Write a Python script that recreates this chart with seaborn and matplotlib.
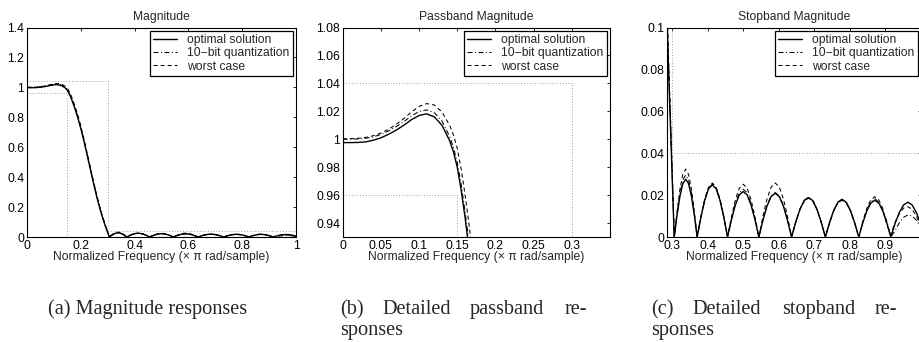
import numpy as np
import pandas as pd
import matplotlib
matplotlib.use("Agg")
import matplotlib.pyplot as plt
from matplotlib.ticker import FuncFormatter, FixedLocator
import seaborn as sns

# ---------------- data ----------------
freq = [0.000, 0.010, 0.020, 0.030, 0.040, 0.050, 0.060, 0.070, 0.080, 0.090,
        0.100, 0.110, 0.120, 0.130, 0.140, 0.145, 0.150, 0.155, 0.160, 0.165,
        0.170, 0.180, 0.190, 0.200, 0.210, 0.220, 0.230, 0.240, 0.250, 0.260,
        0.270, 0.280, 0.290, 0.300,
        0.3060, 0.3141, 0.3221, 0.3302, 0.3383, 0.3463, 0.3544, 0.3624,
        0.3705, 0.3812, 0.3919, 0.4026, 0.4133, 0.4239, 0.4346, 0.4453,
        0.4560, 0.4670, 0.4780, 0.4890, 0.5000, 0.5110, 0.5220, 0.5330,
        0.5440, 0.5555, 0.5670, 0.5785, 0.5900, 0.6015, 0.6130, 0.6245,
        0.6360, 0.6479, 0.6598, 0.6716, 0.6835, 0.6954, 0.7073, 0.7191,
        0.7310, 0.7428, 0.7545, 0.7663, 0.7780, 0.7898, 0.8015, 0.8133,
        0.8250, 0.8363, 0.8475, 0.8588, 0.8700, 0.8813, 0.8925, 0.9038,
        0.9150, 0.9270, 0.9390, 0.9510, 0.9630, 0.9750, 0.9870, 0.9950, 1.0000]

mag_optimal = [0.9976, 0.9976, 0.9977, 0.9981, 0.9993, 1.0010, 1.0035, 1.0065, 1.0100, 1.0140,
               1.0170, 1.0182, 1.0160, 1.0100, 0.9990, 0.9910, 0.9800, 0.9640, 0.9450, 0.9230,
               0.900, 0.848, 0.790, 0.725, 0.653, 0.576, 0.496, 0.416, 0.338, 0.264,
               0.196, 0.135, 0.080, 0.030,
               0.0, 0.0106, 0.0195, 0.0255, 0.0276, 0.0255, 0.0195, 0.0106,
               0.0, 0.0095, 0.0176, 0.0230, 0.0249, 0.0230, 0.0176, 0.0095,
               0.0, 0.0083, 0.0153, 0.0201, 0.0217, 0.0201, 0.0153, 0.0083,
               0.0, 0.0080, 0.0148, 0.0193, 0.0209, 0.0193, 0.0148, 0.0080,
               0.0, 0.0072, 0.0133, 0.0174, 0.0188, 0.0174, 0.0133, 0.0072,
               0.0, 0.0069, 0.0127, 0.0166, 0.0180, 0.0166, 0.0127, 0.0069,
               0.0, 0.0067, 0.0124, 0.0162, 0.0175, 0.0162, 0.0124, 0.0067,
               0.0, 0.0064, 0.0117, 0.0153, 0.0166, 0.0153, 0.0117, 0.0080, 0.0045]

mag_10bit = [1.0000, 1.0000, 1.0002, 1.0007, 1.0017, 1.0034, 1.0059, 1.0090, 1.0126, 1.0167,
             1.0198, 1.0210, 1.0190, 1.0130, 1.0020, 0.9940, 0.9835, 0.9680, 0.9490, 0.9280,
             0.905, 0.855, 0.797, 0.732, 0.660, 0.583, 0.503, 0.423, 0.344, 0.270,
             0.201, 0.139, 0.083, 0.032,
             0.0, 0.0113, 0.0209, 0.0273, 0.0295, 0.0273, 0.0209, 0.0113,
             0.0, 0.0097, 0.0178, 0.0233, 0.0252, 0.0233, 0.0178, 0.0097,
             0.0, 0.0087, 0.0161, 0.0211, 0.0228, 0.0211, 0.0161, 0.0087,
             0.0, 0.0081, 0.0150, 0.0196, 0.0212, 0.0196, 0.0150, 0.0081,
             0.0, 0.0073, 0.0134, 0.0176, 0.0190, 0.0176, 0.0134, 0.0073,
             0.0, 0.0068, 0.0126, 0.0164, 0.0178, 0.0164, 0.0126, 0.0068,
             0.0, 0.0070, 0.0129, 0.0168, 0.0182, 0.0168, 0.0129, 0.0075,
             0.0, 0.0030, 0.0068, 0.0094, 0.0105, 0.0100, 0.0080, 0.0058, 0.0040]

mag_worst = [1.0003, 1.0004, 1.0007, 1.0013, 1.0025, 1.0044, 1.0071, 1.0106, 1.0148, 1.0195,
             1.0235, 1.0255, 1.0245, 1.0195, 1.0100, 1.0030, 0.9935, 0.9790, 0.9610, 0.9410,
             0.918, 0.866, 0.808, 0.742, 0.669, 0.591, 0.510, 0.429, 0.350, 0.275,
             0.205, 0.142, 0.086, 0.034,
             0.0, 0.0124, 0.0229, 0.0299, 0.0324, 0.0299, 0.0229, 0.0124,
             0.0, 0.0099, 0.0182, 0.0238, 0.0258, 0.0238, 0.0182, 0.0099,
             0.0, 0.0097, 0.0178, 0.0233, 0.0252, 0.0233, 0.0178, 0.0097,
             0.0, 0.0099, 0.0182, 0.0238, 0.0258, 0.0238, 0.0182, 0.0099,
             0.0, 0.0071, 0.0132, 0.0172, 0.0186, 0.0172, 0.0132, 0.0071,
             0.0, 0.0067, 0.0124, 0.0163, 0.0176, 0.0163, 0.0124, 0.0067,
             0.0, 0.0074, 0.0136, 0.0177, 0.0192, 0.0177, 0.0136, 0.0060,
             0.0012, 0.0070, 0.0112, 0.0138, 0.0145, 0.0132, 0.0100, 0.0068, 0.0042]

series_names = ["optimal solution", "10\u2212bit quantization", "worst case"]

# specification mask
pass_edge = 0.15
stop_edge = 0.30
ripple = 0.04

panel_titles = ["Magnitude", "Passband Magnitude", "Stopband Magnitude"]
xlabel = "Normalized Frequency (\u00d7 \u03c0 rad/sample)"
xlims = [(0.0, 1.0), (0.0, 0.35), (0.2857, 1.0)]
ylims = [(0.0, 1.4), (0.93, 1.08), (0.0, 0.1)]
xticks = [[0, 0.2, 0.4, 0.6, 0.8, 1.0],
          [0, 0.05, 0.1, 0.15, 0.2, 0.25, 0.3],
          [0.3, 0.4, 0.5, 0.6, 0.7, 0.8, 0.9]]
yticks = [[0, 0.2, 0.4, 0.6, 0.8, 1.0, 1.2, 1.4],
          [0.94, 0.96, 0.98, 1.0, 1.02, 1.04, 1.06, 1.08],
          [0, 0.02, 0.04, 0.06, 0.08, 0.1]]

# ---------------- style ----------------
sns.set_theme(style="white")
plt.rcParams["font.family"] = ["Liberation Sans", "DejaVu Sans"]
plt.rcParams["lines.scale_dashes"] = False

df = pd.DataFrame({
    "freq": freq * 3,
    "mag": mag_optimal + mag_10bit + mag_worst,
    "series": [series_names[0]] * len(freq) + [series_names[1]] * len(freq)
              + [series_names[2]] * len(freq),
})

line_styles = {
    series_names[0]: dict(lw=1.0, ls="-"),
    series_names[1]: dict(lw=0.75, ls=(0, (3.6, 1.8, 0.7, 1.8))),
    series_names[2]: dict(lw=0.75, ls=(0, (2.9, 2.2))),
}

W, H = 919, 342
fig = plt.figure(figsize=(W / 100, H / 100), dpi=100)

ax_px = [(27, 296), (342.7, 610), (667, 921)]
top_px, bot_px = 27.5, 237
FS = 8.7

fmt = FuncFormatter(lambda v, p: ("%g" % round(v, 6)))

for i in range(3):
    l, r = ax_px[i]
    ax = fig.add_axes([l / W, (H - bot_px) / H, (r - l) / W, (bot_px - top_px) / H])
    ax.plot([0, stop_edge, stop_edge, 1.0], [1 + ripple, 1 + ripple, ripple, ripple],
            ls=(0, (0.6, 1.4)), color="0.5", lw=0.6, zorder=1)
    ax.plot([0, pass_edge, pass_edge], [1 - ripple, 1 - ripple, 0],
            ls=(0, (0.6, 1.4)), color="0.5", lw=0.6, zorder=1)
    for name in series_names:
        sub = df[df["series"] == name]
        st = line_styles[name]
        sns.lineplot(x=sub["freq"].to_numpy(), y=sub["mag"].to_numpy(), ax=ax,
                     color="black", linewidth=st["lw"], linestyle=st["ls"],
                     estimator=None, sort=False, label=name, zorder=3)
    ax.set_xlim(*xlims[i])
    ax.set_ylim(*ylims[i])
    ax.xaxis.set_major_locator(FixedLocator(xticks[i]))
    ax.yaxis.set_major_locator(FixedLocator(yticks[i]))
    ax.xaxis.set_major_formatter(fmt)
    ax.yaxis.set_major_formatter(fmt)
    ax.tick_params(direction="in", length=2.5, width=0.6, labelsize=FS,
                   top=True, right=True, pad=2.0, colors="black")
    for s in ax.spines.values():
        s.set_visible(True)
        s.set_color("black")
        s.set_linewidth(0.8)
    ax.set_title(panel_titles[i], fontsize=FS, pad=5.5)
    ax.set_xlabel(xlabel, fontsize=FS, labelpad=-0.5)
    ax.set_ylabel("")
    leg = ax.legend(loc="upper right", fontsize=FS, frameon=True, fancybox=False,
                    borderaxespad=0.25, handlelength=2.0, handletextpad=0.8,
                    labelspacing=0.1, borderpad=0.3)
    leg.get_frame().set_edgecolor("black")
    leg.get_frame().set_linewidth(0.9)
    leg.get_frame().set_alpha(1)

# ---------------- captions ----------------
cap_font = dict(family=["Liberation Serif", "DejaVu Serif"], fontsize=14.6, va="baseline")
y1 = (H - 314) / H
y2 = (H - 335) / H
fig.text(48 / W, y1, "(a) Magnitude responses", ha="left", **cap_font)
b_words = [("(b)", 340, "left"), ("Detailed", 382, "left"), ("passband", 470, "left"), ("re-", 587, "right")]
c_words = [("(c)", 651, "left"), ("Detailed", 692, "left"), ("stopband", 782, "left"), ("re-", 897, "right")]
for words in (b_words, c_words):
    for w, x, ha in words:
        fig.text(x / W, y1, w, ha=ha, **cap_font)
fig.text(340 / W, y2, "sponses", ha="left", **cap_font)
fig.text(651 / W, y2, "sponses", ha="left", **cap_font)

fig.savefig("out.png", dpi=100)
